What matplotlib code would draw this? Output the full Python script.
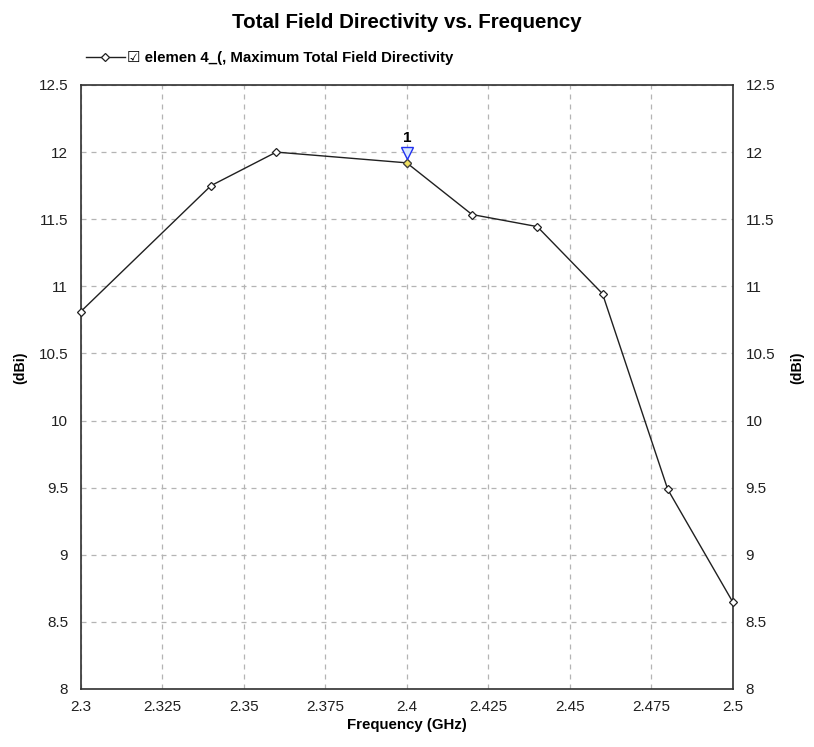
import matplotlib
matplotlib.use("Agg")
import matplotlib.pyplot as plt
from matplotlib.transforms import offset_copy

plt.rcParams['font.family'] = ['Liberation Sans', 'DejaVu Sans']

freq = [2.30, 2.34, 2.36, 2.40, 2.42, 2.44, 2.46, 2.48, 2.50]
directivity = [10.81, 11.75, 12.00, 11.92, 11.535, 11.445, 10.945, 9.487, 8.645]
marker_freq = 2.40
marker_val = 11.92
x_ticks = [2.3, 2.325, 2.35, 2.375, 2.4, 2.425, 2.45, 2.475, 2.5]
x_tick_labels = ["2.3", "2.325", "2.35", "2.375", "2.4", "2.425", "2.45", "2.475", "2.5"]
y_ticks = [8, 8.5, 9, 9.5, 10, 10.5, 11, 11.5, 12, 12.5]
y_tick_labels = ["8", "8.5", "9", "9.5", "10", "10.5", "11", "11.5", "12", "12.5"]

W, H = 814, 747
fig = plt.figure(figsize=(W / 100, H / 100), dpi=100)
ax = fig.add_axes([80.5 / W, 1 - 689 / H, (733 - 80.5) / W, (689 - 85) / H])

line, = ax.plot(freq, directivity, color='#202020', lw=1.0, marker='D', ms=4.2,
                mfc='white', mec='#202020', mew=0.9, zorder=3, clip_on=False)
# highlighted marker point
ax.plot([marker_freq], [marker_val], marker='D', ms=4.2, mfc='#f0e060',
        mec='#404040', mew=0.8, ls='none', zorder=4)
tri_tr = offset_copy(ax.transData, fig=fig, x=0, y=7, units='points')
ax.plot([marker_freq], [marker_val], marker='v', ms=8, mfc='#d8e8ff',
        mec='#2030f0', mew=1.0, ls='none', transform=tri_tr, zorder=5)
txt_tr = offset_copy(ax.transData, fig=fig, x=0, y=13, units='points')
ax.text(marker_freq, marker_val, "1", transform=txt_tr, ha='center', va='bottom',
        fontsize=11, fontweight='bold', color='black')

ax.set_xlim(2.3, 2.5)
ax.set_ylim(8, 12.5)
ax.set_xticks(x_ticks)
ax.set_xticklabels(x_tick_labels)
ax.set_yticks(y_ticks)
ax.set_yticklabels(y_tick_labels)
ax.tick_params(axis='both', length=0, labelsize=11, colors='#202020')
ax.tick_params(axis='y', labelright=True, pad=9)
ax.tick_params(axis='x', pad=8)
ax.grid(True, color='#b4b4b4', ls=(0, (4, 4)), lw=0.9)
for s in ax.spines.values():
    s.set_color('#303030')
    s.set_linewidth(1.2)

ax.set_xlabel("Frequency (GHz)", fontsize=10.8, fontweight='bold', labelpad=3)
fig.text(20 / W, 1 - 368 / H, "(dBi)", rotation=90, ha='center', va='center',
         fontsize=10.2, fontweight='bold')
fig.text(797 / W, 1 - 368 / H, "(dBi)", rotation=90, ha='center', va='center',
         fontsize=10.2, fontweight='bold')

fig.text(407 / W, 1 - 23 / H, "Total Field Directivity vs. Frequency",
         ha='center', va='center', fontsize=14.8, fontweight='bold')

leg = fig.legend([line], ["\u2611 elemen 4_(, Maximum Total Field Directivity"],
                 loc='center left', bbox_to_anchor=(78 / W, 1 - 58 / H),
                 frameon=False, borderpad=0, handlelength=2.6, handletextpad=0.15,
                 prop={'size': 10.8, 'weight': 'bold'})

fig.savefig("out.png", dpi=100)
